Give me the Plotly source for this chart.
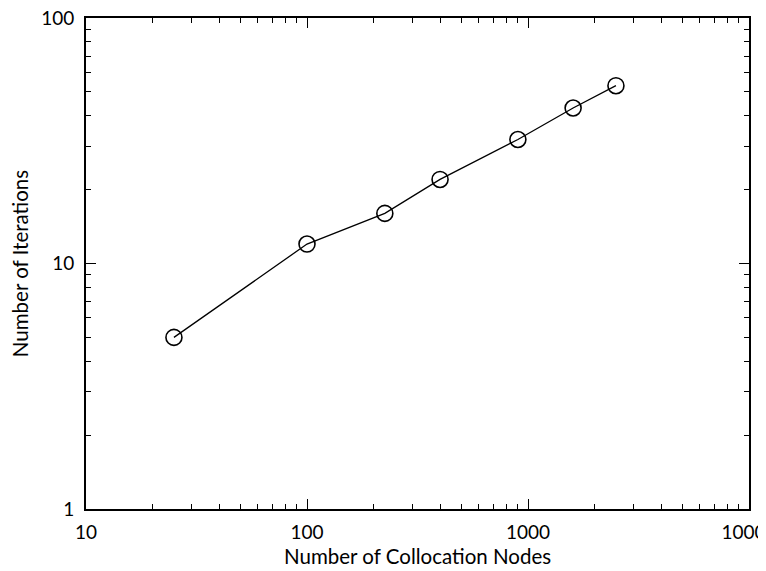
import plotly.graph_objects as go

nodes = [25, 100, 225, 400, 900, 1600, 2500]
iterations = [5, 12, 16, 22, 32, 43, 53]

x_tickvals = [10, 100, 1000, 10000]
x_ticktext = ["10", "100", "1000", "10000"]
y_tickvals = [1, 10, 100]
y_ticktext = ["1", "10", "100"]

x_title = "Number of Collocation Nodes"
y_title = "Number of Iterations"

FONT = "Lato"

def minor_vals(lo, hi):
    vals = []
    d = lo
    while d < hi:
        vals += [d * k for k in range(2, 10)]
        d *= 10
    return vals

fig = go.Figure()
fig.add_trace(go.Scatter(
    x=nodes, y=iterations, mode="lines+markers",
    line=dict(color="black", width=1.3),
    marker=dict(symbol="circle-open", size=16, color="black", line=dict(width=1.6)),
    showlegend=False,
))

axis_common = dict(
    type="log", showgrid=False, zeroline=False, automargin=False,
    showline=True, linecolor="black", linewidth=2, mirror="ticks",
    ticks="inside", ticklen=10, tickwidth=1.3, tickcolor="black",
    tickfont=dict(family=FONT, size=19, color="black"),
    ticklabeloverflow="allow",
)

fig.update_xaxes(
    **axis_common,
    range=[1, 4], tickmode="array", tickvals=x_tickvals, ticktext=x_ticktext,
    minor=dict(ticks="inside", ticklen=5, tickwidth=1.1, tickcolor="black", showgrid=False,
               tickmode="array", tickvals=minor_vals(10, 10000)),
    ticklabelstandoff=5,
)
fig.update_yaxes(
    **axis_common,
    range=[0, 2], tickmode="array", tickvals=y_tickvals, ticktext=y_ticktext,
    minor=dict(ticks="inside", ticklen=5, tickwidth=1.1, tickcolor="black", showgrid=False,
               tickmode="array", tickvals=minor_vals(1, 100)),
    ticklabelstandoff=6,
    title=dict(text=y_title, font=dict(family=FONT, size=20.5, color="black"), standoff=14),
)

fig.add_annotation(
    text=x_title, xref="paper", yref="paper", x=0.5, y=0,
    xanchor="center", yanchor="middle", yshift=-47, showarrow=False,
    font=dict(family=FONT, size=20.5, color="black"),
)

fig.update_layout(
    width=766, height=563,
    margin=dict(l=78, r=25, t=10, b=62),
    plot_bgcolor="white", paper_bgcolor="white",
)

fig.write_html("out.html")
